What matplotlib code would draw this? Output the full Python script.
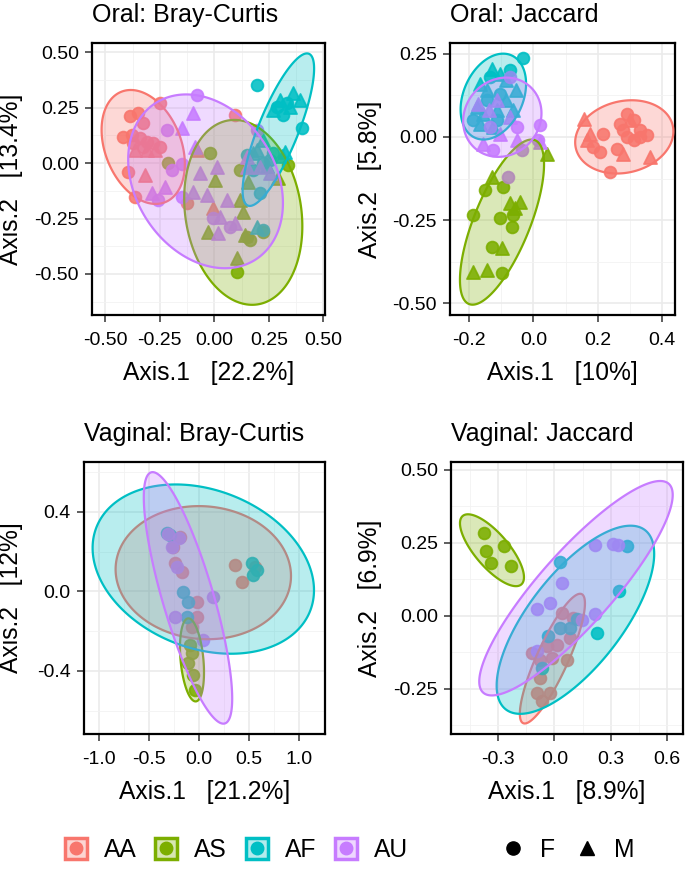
import numpy as np
import matplotlib
matplotlib.use("Agg")
import matplotlib.pyplot as plt
from matplotlib.colors import to_rgba
from matplotlib.patches import Patch, Polygon
from matplotlib.lines import Line2D
from matplotlib.legend_handler import HandlerTuple
from matplotlib.ticker import FixedLocator, FixedFormatter

plt.rcParams['font.family'] = ['Liberation Sans', 'DejaVu Sans']

groups = ["AA", "AS", "AF", "AU"]
group_colors = ["#F8766D", "#7CAE00", "#00BFC4", "#C77CFF"]
sex_levels = ["F", "M"]
sex_markers = ["o", "^"]

# ---- Oral: Bray-Curtis ----
oral_bc_x = [-0.249, 0.095, -0.387, -0.349, -0.326, -0.417, -0.379, -0.341, -0.31, -0.28, -0.249, -0.326, -0.394, -0.364, -0.127, -0.372,
             -0.364, -0.31, -0.272, -0.318, -0.005, -0.081,
             -0.211, -0.02, 0.118, 0.339, 0.225, 0.164, 0.102, 0.148,
             0.003, 0.156, 0.118, 0.133, -0.027, 0.141, 0.102, 0.294,
             0.194, 0.401, 0.317, 0.286, 0.332, 0.209, 0.148, 0.225, 0.255, 0.179, 0.225, 0.271,
             0.362, 0.301, 0.347, 0.393, 0.271, 0.225, 0.194, 0.324, 0.179, 0.194, 0.240, 0.309,
             -0.081, -0.219, -0.150, -0.196, -0.150, -0.257, -0.005, 0.194, 0.072,
             -0.096, -0.150, -0.089, 0.011, -0.066, -0.287, -0.226, -0.096, -0.035, 0.057, 0.026, 0.095, 0.018, 0.148, 0.209, 0.148, 0.255]
oral_bc_y = [0.27, 0.217, 0.213, 0.228, 0.180, 0.120, 0.127, 0.112, 0.097, 0.089, 0.074, 0.074, -0.038, -0.151, -0.181, 0.09,
             0.059, 0.059, 0.059, -0.053, -0.204, 0.059,
             0.0, 0.044, -0.031, -0.008, -0.309, -0.347, -0.49, -0.331,
             -0.076, -0.083, -0.166, -0.219, -0.309, -0.324, -0.429, -0.068,
             0.353, 0.157, 0.217, 0.255, 0.27, -0.136, 0.037, 0.0, 0.014, -0.031, -0.302, 0.044,
             0.315, 0.285, 0.255, 0.285, 0.24, 0.105, 0.059, 0.052, 0.044, -0.286, -0.015, 0.03,
             0.308, 0.150, -0.006, -0.031, -0.151, -0.166, -0.249, 0.15, -0.286,
             0.225, 0.157, 0.074, -0.016, -0.046, -0.136, -0.106, -0.128, -0.144, -0.166, -0.241, -0.271, -0.317, 0.029, -0.016, -0.016, -0.046]
oral_bc_group = (["AA"] * 22) + (["AS"] * 16) + (["AF"] * 24) + (["AU"] * 26)
oral_bc_sex = (["F"] * 16 + ["M"] * 6 + ["F"] * 8 + ["M"] * 8
               + ["F"] * 12 + ["M"] * 12 + ["F"] * 9 + ["M"] * 17)
# ellipses in group order: centre, half extents, correlation
oral_bc_cx = [-0.326, 0.133, 0.294, -0.040]
oral_bc_cy = [0.073, -0.222, 0.151, -0.082]
oral_bc_hx = [0.191, 0.271, 0.164, 0.355]
oral_bc_hy = [0.257, 0.417, 0.344, 0.392]
oral_bc_rho = [-0.3, -0.15, 0.8, -0.25]

# ---- Oral: Jaccard ----
oral_jc_x = [0.291, 0.312, 0.27, 0.332, 0.353, 0.291, 0.312, 0.218, 0.187, 0.208, 0.26, 0.239, 0.28, 0.332,
             0.156, 0.177, 0.28, 0.364, 0.166, 0.3,
             -0.151, -0.094, -0.188, -0.104, -0.068, -0.13, -0.099, -0.063,
             -0.13, 0.041, -0.073, -0.042, -0.057, -0.099, -0.188, -0.146,
             -0.032, -0.146, -0.104, -0.073, -0.188, -0.136, -0.115,
             -0.13, -0.104, -0.167, -0.146, -0.084, -0.053, -0.177, -0.157, -0.167, -0.125, -0.084, -0.115, -0.063,
             -0.073, 0.02, -0.052, 0.015, -0.037, -0.125, -0.078, -0.136,
             -0.172, -0.14, -0.073, -0.156, -0.104, 0.02, -0.115, -0.052]
oral_jc_y = [0.07, 0.05, 0.04, 0.02, 0.005, 0.0, -0.01, 0.01, -0.03, -0.045, -0.035, -0.105, 0.02, 0.0,
             0.055, 0.01, -0.05, -0.06, -0.01, 0.05,
             -0.16, -0.15, -0.235, -0.245, -0.27, -0.33, -0.41, -0.235,
             -0.12, -0.05, -0.2, -0.195, -0.215, -0.335, -0.405, -0.40,
             0.238, 0.11, 0.13, 0.2, 0.05, 0.18, 0.05,
             0.205, 0.19, 0.16, 0.14, 0.17, 0.14, 0.09, 0.07, 0.04, 0.03, 0.11, 0.08, 0.08,
             0.18, 0.035, 0.03, -0.01, -0.04, -0.04, -0.12, 0.03,
             0.1, 0.08, 0.06, -0.02, 0.01, -0.015, 0.11, -0.01]
oral_jc_group = (["AA"] * 20) + (["AS"] * 16) + (["AF"] * 20) + (["AU"] * 16)
oral_jc_sex = (["F"] * 14 + ["M"] * 6 + ["F"] * 8 + ["M"] * 8
               + ["F"] * 7 + ["M"] * 13 + ["F"] * 8 + ["M"] * 8)
oral_jc_cx = [0.283, -0.098, -0.125, -0.097]
oral_jc_cy = [0.0, -0.256, 0.121, 0.059]
oral_jc_hx = [0.153, 0.131, 0.102, 0.122]
oral_jc_hy = [0.11, 0.248, 0.129, 0.119]
oral_jc_rho = [0.15, 0.7, 0.3, 0.1]

# ---- Vaginal: Bray-Curtis ----
vag_bc_x = [-0.26, -0.243, -0.177, -0.027, -0.027, -0.077, 0.357, 0.423, 0.557, -0.193,
            -0.093, -0.077, -0.06, -0.043, -0.11,
            -0.327, -0.293, -0.16, -0.11, -0.127, 0.523, 0.573, 0.54,
            -0.2, -0.277, -0.227, -0.243, 0.14, 0.04, -0.31]
vag_bc_y = [0.224, 0.141, 0.099, -0.052, -0.127, -0.177, 0.132, 0.049, 0.124, 0.274,
            -0.269, -0.311, -0.42, -0.495, -0.362,
            0.296, 0.283, -0.002, -0.052, -0.127, 0.141, 0.107, 0.082,
            0.27, 0.224, 0.124, -0.127, -0.03, -0.244, 0.29]
vag_bc_group = (["AA"] * 10) + (["AS"] * 5) + (["AF"] * 8) + (["AU"] * 7)
vag_bc_sex = ["F"] * 30
vag_bc_cx = [0.04, -0.073, 0.04, -0.113]
vag_bc_cy = [0.094, -0.345, 0.112, -0.033]
vag_bc_hx = [0.877, 0.12, 1.107, 0.442]
vag_bc_hy = [0.335, 0.209, 0.426, 0.633]
vag_bc_rho = [-0.05, -0.3, -0.25, -0.8]

# ---- Vaginal: Jaccard ----
vag_jc_x = [0.039, 0.101, -0.042, 0.012, 0.083, -0.015, -0.077, 0.065, -0.095, -0.024, -0.068, -0.077, -0.122,
            -0.377, -0.368, -0.27, -0.341, -0.234,
            0.03, 0.39, 0.347, 0.226, 0.119, 0.083, 0.03, -0.033, -0.068,
            -0.095, -0.024, 0.039, 0.217, 0.315, 0.342, 0.217, -0.095, 0.146]
vag_jc_y = [0.009, -0.008, -0.105, -0.099, -0.076, -0.145, -0.151, -0.151, -0.265, -0.265, -0.293, -0.213, -0.128,
            0.283, 0.22, 0.24, 0.18, 0.169,
            0.183, 0.237, 0.083, -0.059, -0.011, -0.042, -0.042, -0.071, -0.179,
            0.023, 0.043, 0.112, 0.243, 0.247, 0.243, 0.006, -0.122, -0.014]
vag_jc_group = (["AA"] * 13) + (["AS"] * 5) + (["AF"] * 9) + (["AU"] * 9)
vag_jc_sex = ["F"] * 36
vag_jc_cx = [-0.011, -0.334, 0.112, 0.115]
vag_jc_cy = [-0.147, 0.224, -0.014, 0.094]
vag_jc_hx = [0.174, 0.171, 0.421, 0.517]
vag_jc_hy = [0.222, 0.123, 0.322, 0.367]
vag_jc_rho = [0.85, -0.75, 0.7, 0.87]


def draw_panel(ax, title, xs, ys, grp, sex, cx, cy, hx, hy, rho,
               xlim, ylim, xticks, xlabels, yticks, ylabels, xlab, ylab,
               xminor, yminor, ylab_x):
    xs = np.array(xs)
    ys = np.array(ys)
    grp = np.array(grp)
    sex = np.array(sex)

    # points first, ellipses are drawn over them
    for g, col in zip(groups, group_colors):
        for s, mk in zip(sex_levels, sex_markers):
            m = (grp == g) & (sex == s)
            if m.sum() == 0:
                continue
            rgba = to_rgba(col, 0.88)
            ax.scatter(xs[m], ys[m], marker=mk, s=88 if mk == "^" else 72,
                       facecolors=[rgba], edgecolors=[rgba], linewidths=1.3, zorder=2)

    t = np.linspace(0, 2 * np.pi, 200)
    for i, col in enumerate(group_colors):
        ex = cx[i] + hx[i] * np.cos(t)
        ey = cy[i] + hy[i] * (rho[i] * np.cos(t) + np.sqrt(1 - rho[i] ** 2) * np.sin(t))
        poly = Polygon(np.column_stack([ex, ey]), closed=True,
                       facecolor=to_rgba(col, 0.28), edgecolor=col, lw=1.6, zorder=3 + i)
        ax.add_patch(poly)

    ax.set_xlim(*xlim)
    ax.set_ylim(*ylim)
    ax.xaxis.set_major_locator(FixedLocator(xticks))
    ax.xaxis.set_major_formatter(FixedFormatter(xlabels))
    ax.yaxis.set_major_locator(FixedLocator(yticks))
    ax.yaxis.set_major_formatter(FixedFormatter(ylabels))
    ax.xaxis.set_minor_locator(FixedLocator(xminor))
    ax.yaxis.set_minor_locator(FixedLocator(yminor))
    ax.grid(True, which="major", color="#EBEBEB", lw=1.2)
    ax.grid(True, which="minor", color="#F2F2F2", lw=0.6)
    ax.set_axisbelow(True)
    ax.tick_params(which="major", direction="out", length=5, width=1.1,
                   color="#333333", labelsize=14, labelcolor="black")
    ax.tick_params(axis="x", which="major", pad=7)
    ax.tick_params(axis="y", which="major", pad=4.5)
    ax.tick_params(which="minor", length=0)
    for sp in ax.spines.values():
        sp.set_linewidth(1.6)
        sp.set_color("black")
    ax.set_title(title, loc="left", fontsize=18, pad=15)
    ax.set_xlabel(xlab, fontsize=17.7)
    ax.set_ylabel(ylab, fontsize=17.7)
    ax.xaxis.set_label_coords(0.5, -0.17)
    ax.yaxis.set_label_coords(ylab_x, 0.5)


fig = plt.figure(figsize=(6.85, 8.8), dpi=100)
W, H = 685.0, 880.0


def px_axes(x0, x1, y0, y1):
    return fig.add_axes([x0 / W, (H - y1) / H, (x1 - x0) / W, (y1 - y0) / H])


ax1 = px_axes(92, 325, 43, 315)
ax2 = px_axes(450, 675, 43, 315)
ax3 = px_axes(84, 325, 462, 734)
ax4 = px_axes(451, 683, 462, 734)

draw_panel(ax1, "Oral: Bray-Curtis", oral_bc_x, oral_bc_y, oral_bc_group, oral_bc_sex,
           oral_bc_cx, oral_bc_cy, oral_bc_hx, oral_bc_hy, oral_bc_rho,
           (-0.561, 0.508), (-0.685, 0.542),
           [-0.5, -0.25, 0.0, 0.25, 0.5], ["-0.50", "-0.25", "0.00", "0.25", "0.50"],
           [-0.5, -0.25, 0.0, 0.25, 0.5], ["-0.50", "-0.25", "0.00", "0.25", "0.50"],
           "Axis.1   [22.2%]", "Axis.2   [13.4%]",
           [-0.375, -0.125, 0.125, 0.375], [-0.625, -0.375, -0.125, 0.125, 0.375], -0.296)

draw_panel(ax2, "Oral: Jaccard", oral_jc_x, oral_jc_y, oral_jc_group, oral_jc_sex,
           oral_jc_cx, oral_jc_cy, oral_jc_hx, oral_jc_hy, oral_jc_rho,
           (-0.260, 0.441), (-0.535, 0.282),
           [-0.2, 0.0, 0.2, 0.4], ["-0.2", "0.0", "0.2", "0.4"],
           [-0.5, -0.25, 0.0, 0.25], ["-0.50", "-0.25", "0.00", "0.25"],
           "Axis.1   [10%]", "Axis.2   [5.8%]",
           [-0.1, 0.1, 0.3], [-0.375, -0.125, 0.125], -0.302)

draw_panel(ax3, "Vaginal: Bray-Curtis", vag_bc_x, vag_bc_y, vag_bc_group, vag_bc_sex,
           vag_bc_cx, vag_bc_cy, vag_bc_hx, vag_bc_hy, vag_bc_rho,
           (-1.153, 1.257), (-0.718, 0.651),
           [-1.0, -0.5, 0.0, 0.5, 1.0], ["-1.0", "-0.5", "0.0", "0.5", "1.0"],
           [-0.4, 0.0, 0.4], ["-0.4", "0.0", "0.4"],
           "Axis.1   [21.2%]", "Axis.2   [12%]",
           [-0.75, -0.25, 0.25, 0.75], [-0.6, -0.2, 0.2, 0.6], -0.253)

draw_panel(ax4, "Vaginal: Jaccard", vag_jc_x, vag_jc_y, vag_jc_group, vag_jc_sex,
           vag_jc_cx, vag_jc_cy, vag_jc_hx, vag_jc_hy, vag_jc_rho,
           (-0.553, 0.687), (-0.405, 0.526),
           [-0.3, 0.0, 0.3, 0.6], ["-0.3", "0.0", "0.3", "0.6"],
           [-0.25, 0.0, 0.25, 0.5], ["-0.25", "0.00", "0.25", "0.50"],
           "Axis.1   [8.9%]", "Axis.2   [6.9%]",
           [-0.45, -0.15, 0.15, 0.45], [-0.375, -0.125, 0.125, 0.375], -0.297)

# legends
grp_handles = [(Patch(facecolor=to_rgba(c, 0.3), edgecolor=c, lw=2.5),
                Line2D([], [], marker="o", ls="", color=c, markersize=9))
               for c in group_colors]
leg1 = fig.legend(grp_handles, groups, handler_map={tuple: HandlerTuple(ndivide=1, pad=0)},
                  ncol=4, loc="center", bbox_to_anchor=(0.345, 0.034), frameon=False,
                  fontsize=17.7, handlelength=0.9, handleheight=0.9,
                  handletextpad=0.7, columnspacing=0.75)
sex_handles = [Line2D([], [], marker=m, ls="", color="black", markersize=9.5) for m in sex_markers]
leg2 = fig.legend(sex_handles, sex_levels, ncol=2, loc="center", bbox_to_anchor=(0.829, 0.034),
                  frameon=False, fontsize=17.7, handlelength=1.0, handletextpad=0.6,
                  columnspacing=0.8)

fig.savefig("out.png", dpi=100)
